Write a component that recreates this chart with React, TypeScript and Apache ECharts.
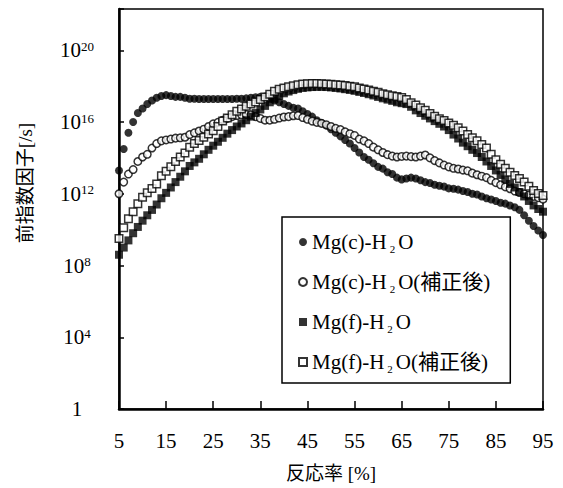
import React, { useEffect, useRef } from 'react';
import * as echarts from 'echarts';

// Reaction rate [%]
const reactionRate = [
  5, 6, 7, 8, 9, 10, 11, 12, 13, 14,
  15, 16, 17, 18, 19, 20, 21, 22, 23, 24,
  25, 26, 27, 28, 29, 30, 31, 32, 33, 34,
  35, 36, 37, 38, 39, 40, 41, 42, 43, 44,
  45, 46, 47, 48, 49, 50, 51, 52, 53, 54,
  55, 56, 57, 58, 59, 60, 61, 62, 63, 64,
  65, 66, 67, 68, 69, 70, 71, 72, 73, 74,
  75, 76, 77, 78, 79, 80, 81, 82, 83, 84,
  85, 86, 87, 88, 89, 90, 91, 92, 93, 94, 95,
];

// log10 of the pre-exponential factor [/s]
const mgCLog = [
  13.3, 14.5, 15.4, 16.0, 16.5, 16.75, 17.0, 17.2, 17.35, 17.45,
  17.5, 17.45, 17.4, 17.4, 17.35, 17.3, 17.3, 17.28, 17.28, 17.28,
  17.28, 17.28, 17.28, 17.28, 17.28, 17.3, 17.3, 17.32, 17.35, 17.38,
  17.4, 17.42, 17.3, 17.2, 17.1, 17.0, 16.9, 16.8, 16.75, 16.6,
  16.45, 16.3, 16.1, 15.95, 15.8, 15.6, 15.4, 15.2, 15.0, 14.8,
  14.55, 14.3, 14.05, 13.9, 13.7, 13.5, 13.4, 13.2, 13.1, 12.9,
  12.8, 12.85, 12.9, 12.85, 12.75, 12.65, 12.6, 12.5, 12.45, 12.4,
  12.3, 12.28, 12.23, 12.15, 12.1, 12.0, 11.96, 11.85, 11.75, 11.68,
  11.6, 11.5, 11.45, 11.35, 11.25, 11.1, 10.8, 10.5, 10.2, 9.95, 9.7,
];

const mgCCorrLog = [
  12.0, 12.65, 13.1, 13.35, 13.8, 14.05, 14.2, 14.55, 14.8, 14.95,
  15.0, 15.05, 15.1, 15.12, 15.15, 15.3, 15.4, 15.5, 15.6, 15.75,
  15.9, 15.98, 16.1, 16.2, 16.3, 16.36, 16.4, 16.42, 16.4, 16.3,
  16.2, 16.1, 16.1, 16.15, 16.22, 16.28, 16.3, 16.35, 16.36, 16.25,
  16.15, 16.05, 15.98, 15.92, 15.85, 15.75, 15.65, 15.58, 15.45, 15.35,
  15.25, 15.05, 14.95, 14.8, 14.6, 14.45, 14.3, 14.18, 14.1, 14.05,
  14.08, 14.1, 14.07, 14.05, 14.1, 14.16, 14.0, 13.85, 13.72, 13.6,
  13.5, 13.42, 13.38, 13.32, 13.28, 13.15, 13.06, 12.98, 12.9, 12.75,
  12.62, 12.5, 12.38, 12.28, 12.15, 12.07, 12.0, 11.92, 11.85, 11.78, 11.7,
];

const mgFLog = [
  8.6, 9.0, 9.4, 9.8, 10.15, 10.5, 10.8, 11.1, 11.4, 11.75,
  12.05, 12.35, 12.65, 12.95, 13.25, 13.55, 13.75, 13.95, 14.2, 14.45,
  14.68, 14.9, 15.12, 15.35, 15.55, 15.75, 15.92, 16.1, 16.3, 16.5,
  16.7, 16.9, 17.1, 17.3, 17.45, 17.6, 17.7, 17.78, 17.85, 17.9,
  17.93, 17.95, 17.96, 17.96, 17.95, 17.93, 17.9, 17.87, 17.83, 17.79,
  17.74, 17.68, 17.62, 17.55, 17.48, 17.4, 17.32, 17.25, 17.18, 17.1,
  17.05, 17.0, 16.85, 16.65, 16.5, 16.35, 16.2, 16.05, 15.9, 15.75,
  15.55, 15.3, 15.08, 14.85, 14.65, 14.45, 14.27, 14.05, 13.8, 13.55,
  13.3, 13.05, 12.8, 12.55, 12.35, 12.1, 11.85, 11.6, 11.35, 11.15, 11.0,
];

const mgFCorrLog = [
  9.5, 10.1, 10.6, 11.0, 11.45, 11.8, 12.05, 12.3, 12.55, 13.0,
  13.25, 13.5, 13.8, 14.05, 14.27, 14.6, 14.8, 14.97, 15.15, 15.33,
  15.52, 15.75, 16.05, 16.22, 16.4, 16.6, 16.73, 16.88, 17.0, 17.12,
  17.25, 17.4, 17.55, 17.72, 17.82, 17.9, 17.96, 18.02, 18.08, 18.12,
  18.14, 18.15, 18.15, 18.14, 18.12, 18.1, 18.08, 18.06, 18.03, 18.0,
  17.96, 17.9, 17.84, 17.78, 17.72, 17.66, 17.58, 17.52, 17.47, 17.42,
  17.36, 17.25, 17.08, 16.95, 16.8, 16.66, 16.48, 16.32, 16.18, 16.08,
  15.95, 15.82, 15.68, 15.5, 15.3, 15.12, 14.95, 14.75, 14.55, 14.2,
  13.9, 13.65, 13.42, 13.2, 13.02, 12.85, 12.66, 12.42, 12.18, 12.02, 11.9,
];

const seriesNames = [
  'Mg(c)-H2O',
  'Mg(c)-H2O(補正後)',
  'Mg(f)-H2O',
  'Mg(f)-H2O(補正後)',
];

const xTitle = '反応率 [%]';
const yTitle = '前指数因子[/s]';

const FONT = "'Liberation Serif', 'Noto Sans CJK JP', serif";
const CJK_FONT = "'Liberation Serif', 'Noto Sans CJK JP', sans-serif";

function toPairs(logs: number[]) {
  return reactionRate.map((x, i) => [x, Math.pow(10, logs[i])]);
}

export default function App() {
  const ref = useRef<HTMLDivElement>(null);

  useEffect(() => {
    document.body.style.margin = '0';
    if (!ref.current) return;
    const chart = echarts.init(ref.current, undefined, { renderer: 'svg' });

    const option: any = {
      animation: false,
      grid: {
        left: 119,
        right: 20,
        top: 9,
        bottom: 74,
        show: true,
        borderColor: '#000',
        borderWidth: 1.5,
        backgroundColor: 'transparent',
      },
      xAxis: {
        type: 'value',
        min: 5,
        max: 95,
        interval: 10,
        name: xTitle,
        nameLocation: 'middle',
        nameGap: 55,
        nameTextStyle: { fontSize: 19, color: '#000', fontFamily: CJK_FONT },
        axisLine: { lineStyle: { color: '#000', width: 2.5 } },
        axisTick: { inside: true, length: 8, lineStyle: { color: '#000', width: 1.5 } },
        axisLabel: { margin: 22, fontSize: 21, color: '#000', fontFamily: FONT },
        splitLine: { show: false },
      },
      yAxis: {
        type: 'log',
        logBase: 10000,
        min: 1,
        max: 2e22,
        name: yTitle,
        nameLocation: 'middle',
        nameGap: 84,
        nameTextStyle: {
          fontSize: 19,
          color: '#000',
          fontFamily: CJK_FONT,
          padding: [0, 0, 0, 52],
        },
        axisLine: { show: true, lineStyle: { color: '#000', width: 2.5 } },
        axisTick: { show: true, inside: true, length: 5, lineStyle: { color: '#000', width: 1.5 } },
        axisLabel: {
          margin: 42,
          align: 'center',
          fontSize: 21,
          color: '#000',
          fontFamily: FONT,
          formatter: (val: number) => {
            const e = Math.log10(val);
            const r = Math.round(e);
            if (Math.abs(e - r) > 1e-6 || r % 4 !== 0) return '';
            return r === 0 ? '1' : `10{sup|${r}}`;
          },
          rich: {
            sup: { fontSize: 13, verticalAlign: 'top', color: '#000', fontFamily: FONT },
          },
        },
        splitLine: { show: false },
        minorTick: { show: false },
      },
      legend: {
        orient: 'vertical',
        left: 282,
        top: 217,
        padding: [13, 20, 9, 16],
        itemGap: 16,
        itemWidth: 8,
        itemHeight: 8,
        borderColor: '#000',
        borderWidth: 1.5,
        borderRadius: 0,
        backgroundColor: '#fff',
        formatter: (name: string) => name.replace('H2O', 'H{s|2}O'),
        textStyle: {
          fontSize: 21,
          lineHeight: 24,
          color: '#000',
          fontFamily: CJK_FONT,
          rich: {
            s: { fontSize: 11, color: '#000', fontFamily: FONT, padding: [0, 3, 0, 3], verticalAlign: 'bottom' },
          },
        },
        data: seriesNames,
      },
      series: [
        {
          type: 'scatter',
          name: seriesNames[0],
          data: toPairs(mgCLog),
          symbol: 'circle',
          symbolSize: 8,
          clip: false,
          itemStyle: { color: '#000' },
        },
        {
          type: 'scatter',
          name: seriesNames[1],
          data: toPairs(mgCCorrLog),
          symbol: 'circle',
          symbolSize: 7.5,
          clip: false,
          itemStyle: { color: '#fff', borderColor: '#000', borderWidth: 1.5 },
        },
        {
          type: 'scatter',
          name: seriesNames[2],
          data: toPairs(mgFLog),
          symbol: 'rect',
          symbolSize: 8,
          clip: false,
          itemStyle: { color: '#000' },
        },
        {
          type: 'scatter',
          name: seriesNames[3],
          data: toPairs(mgFCorrLog),
          symbol: 'rect',
          symbolSize: 7.5,
          clip: false,
          itemStyle: { color: '#fff', borderColor: '#000', borderWidth: 1.5 },
        },
      ],
    };

    chart.setOption(option);
    return () => chart.dispose();
  }, []);

  return <div ref={ref} style={{ width: 563, height: 488 }} />;
}
